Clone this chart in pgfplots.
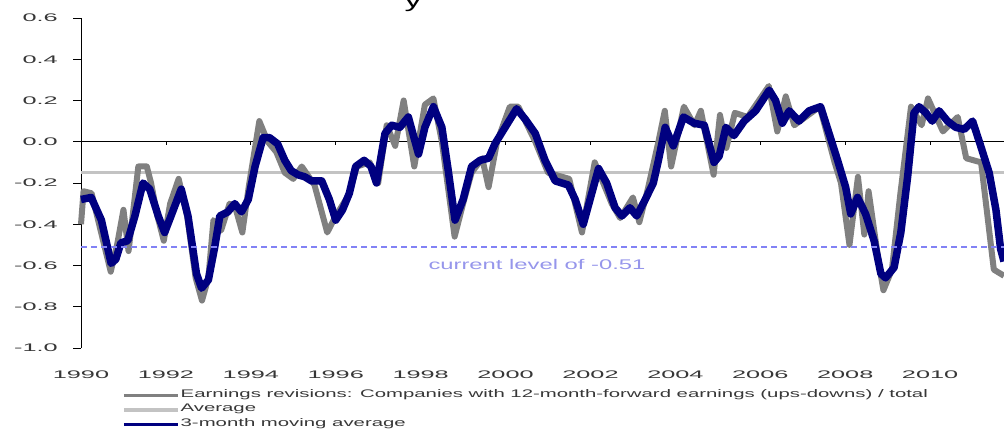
\documentclass[border=0pt]{standalone}
\usepackage{fontspec}
\setmainfont{Liberation Sans}
\usepackage{graphicx}
\usepackage{pgfplots}
\pgfplotsset{compat=1.18}

\definecolor{navy}{RGB}{0,0,128}
\definecolor{revgray}{RGB}{128,128,128}
\definecolor{avggray}{RGB}{195,195,195}
\definecolor{curblue}{RGB}{130,130,245}
\definecolor{curtext}{RGB}{150,150,235}
\definecolor{ticktext}{RGB}{55,55,55}

% the source picture is stretched sideways, so the text is too
\newcommand\wide[1]{\scalebox{2.3}[1]{#1}}
\newcommand\legwide[1]{\scalebox{1.85}[1]{#1}}

\pgfplotstableread{
year value
1990.00 -0.40
1990.06 -0.24
1990.25 -0.25
1990.45 -0.42
1990.70 -0.63
1990.85 -0.50
1991.00 -0.33
1991.12 -0.53
1991.25 -0.30
1991.35 -0.12
1991.55 -0.12
1991.65 -0.20
1991.80 -0.36
1991.95 -0.48
1992.10 -0.30
1992.30 -0.18
1992.50 -0.36
1992.70 -0.66
1992.85 -0.77
1993.00 -0.66
1993.12 -0.38
1993.30 -0.43
1993.50 -0.30
1993.65 -0.33
1993.80 -0.44
1993.95 -0.22
1994.20 0.10
1994.40 0.00
1994.60 -0.05
1994.80 -0.15
1995.00 -0.18
1995.20 -0.12
1995.50 -0.21
1995.80 -0.44
1996.00 -0.36
1996.30 -0.26
1996.50 -0.12
1996.80 -0.10
1997.00 -0.20
1997.20 0.08
1997.40 -0.02
1997.60 0.20
1997.85 -0.12
1998.10 0.18
1998.30 0.21
1998.50 0.00
1998.80 -0.46
1999.00 -0.30
1999.20 -0.15
1999.45 -0.08
1999.60 -0.22
1999.80 0.00
2000.10 0.17
2000.30 0.17
2000.70 0.00
2001.00 -0.15
2001.50 -0.18
2001.80 -0.44
2002.10 -0.10
2002.50 -0.30
2002.70 -0.37
2003.00 -0.27
2003.15 -0.39
2003.35 -0.23
2003.60 0.00
2003.75 0.15
2003.90 -0.12
2004.20 0.17
2004.45 0.08
2004.60 0.15
2004.90 -0.16
2005.05 0.13
2005.20 -0.03
2005.40 0.14
2005.70 0.12
2006.20 0.27
2006.40 0.05
2006.60 0.22
2006.80 0.08
2007.40 0.17
2007.75 -0.10
2007.90 -0.20
2008.10 -0.50
2008.30 -0.17
2008.45 -0.45
2008.55 -0.24
2008.80 -0.60
2008.90 -0.72
2009.10 -0.62
2009.30 -0.25
2009.55 0.17
2009.80 0.08
2009.95 0.21
2010.30 0.05
2010.65 0.12
2010.85 -0.08
2011.20 -0.10
2011.50 -0.62
2011.74 -0.65
}\revisions

\pgfplotstableread{
year value
1990.00 -0.28
1990.24 -0.27
1990.48 -0.38
1990.71 -0.59
1990.82 -0.57
1990.94 -0.49
1991.10 -0.48
1991.27 -0.36
1991.46 -0.20
1991.62 -0.23
1991.82 -0.36
1991.97 -0.44
1992.12 -0.36
1992.36 -0.23
1992.52 -0.36
1992.72 -0.64
1992.84 -0.71
1993.00 -0.67
1993.15 -0.51
1993.27 -0.36
1993.46 -0.34
1993.62 -0.30
1993.78 -0.34
1993.94 -0.28
1994.10 -0.12
1994.29 0.02
1994.44 0.02
1994.63 -0.01
1994.80 -0.09
1994.95 -0.14
1995.11 -0.16
1995.27 -0.17
1995.43 -0.19
1995.67 -0.19
1995.85 -0.28
1996.00 -0.38
1996.16 -0.33
1996.32 -0.25
1996.47 -0.12
1996.67 -0.09
1996.83 -0.12
1996.96 -0.20
1997.16 0.04
1997.32 0.08
1997.51 0.07
1997.71 0.12
1997.95 -0.06
1998.10 0.07
1998.30 0.17
1998.50 0.07
1998.65 -0.14
1998.81 -0.38
1999.00 -0.28
1999.20 -0.12
1999.40 -0.09
1999.60 -0.08
1999.75 -0.01
1999.99 0.07
2000.26 0.16
2000.46 0.11
2000.70 0.04
2000.93 -0.09
2001.17 -0.19
2001.48 -0.21
2001.64 -0.28
2001.83 -0.40
2001.99 -0.28
2002.19 -0.13
2002.38 -0.20
2002.58 -0.32
2002.74 -0.36
2002.93 -0.32
2003.09 -0.36
2003.29 -0.28
2003.48 -0.20
2003.60 -0.09
2003.76 0.07
2003.95 -0.02
2004.19 0.12
2004.44 0.09
2004.68 0.08
2004.91 -0.10
2005.03 -0.07
2005.19 0.07
2005.38 0.03
2005.62 0.10
2005.89 0.15
2006.21 0.25
2006.36 0.20
2006.52 0.09
2006.68 0.15
2006.91 0.10
2007.15 0.15
2007.42 0.17
2007.62 0.04
2007.82 -0.09
2008.01 -0.22
2008.13 -0.35
2008.29 -0.27
2008.48 -0.35
2008.68 -0.48
2008.84 -0.64
2008.95 -0.66
2009.15 -0.61
2009.31 -0.44
2009.47 -0.17
2009.62 0.14
2009.74 0.17
2009.90 0.14
2010.05 0.10
2010.21 0.15
2010.41 0.10
2010.60 0.07
2010.80 0.06
2011.00 0.10
2011.19 -0.02
2011.39 -0.15
2011.55 -0.33
2011.66 -0.52
2011.74 -0.58
}\movavg

\begin{document}
\begin{tikzpicture}[x=1pt,y=1pt]
\path[use as bounding box] (0,0) rectangle (1004,430);
% only the foot of the title shows at the top edge
\node[overlay, anchor=base, font=\fontsize{20}{24}\selectfont] at (413,422) {\scalebox{1.7}[1]{y}};
\begin{axis}[
    at={(81pt,82pt)}, anchor=south west,
    scale only axis, width=923pt, height=330pt,
    xmin=1990, xmax=2011.74, ymin=-1, ymax=0.6,
    clip=false,
    axis y line=left, axis x line=bottom,
    x axis line style={draw=none},
    y axis line style={-, black, line width=0.9pt},
    tick align=outside,
    major tick length=8pt,
    xtick={1990,1992,1994,1996,1998,2000,2002,2004,2006,2008,2010},
    xticklabels={\wide{1990},\wide{1992},\wide{1994},\wide{1996},\wide{1998},\wide{2000},\wide{2002},\wide{2004},\wide{2006},\wide{2008},\wide{2010}},
    xtick style={draw=none},
    ytick={-1,-0.8,-0.6,-0.4,-0.2,0,0.2,0.4,0.6},
    yticklabels={\wide{-1.0},\wide{-0.8},\wide{-0.6},\wide{-0.4},\wide{-0.2},\wide{0.0},\wide{0.2},\wide{0.4},\wide{0.6}},
    ytick style={draw=black, line width=0.8pt},
    xticklabel style={font=\fontsize{11}{13}\selectfont, text=ticktext, anchor=north, inner sep=0pt, yshift=-15pt},
    yticklabel style={font=\fontsize{11}{13}\selectfont, text=ticktext, anchor=east, inner sep=0pt, xshift=-15pt},
    legend style={at={(0.0444,-0.121)}, anchor=north west, draw=none, fill=none,
        inner sep=0pt, font=\fontsize{11}{13}\selectfont, text=ticktext,
        row sep=0pt, column sep=0pt,
        nodes={inner sep=1pt, text height=8pt, text depth=4.5pt}},
    legend cell align=left,
    legend image code/.code={\draw[#1, line width=3.5pt] (0pt,0pt) -- (54pt,0pt);},
]
% zero line with its small ticks, and the ticks of the value axis
\draw[black, line width=0.8pt] (axis cs:1990,0) -- (axis cs:2011.74,0);
\pgfplotsinvokeforeach{1992,1994,1996,1998,2000,2002,2004,2006,2008,2010}{
  \draw[black, line width=0.8pt] (axis cs:#1,0) -- ++(0pt,-3pt);
}
\pgfplotsinvokeforeach{-1,-0.8,-0.6,-0.4,-0.2,0,0.2,0.4,0.6}{
  \draw[black, line width=0.8pt] (axis cs:1990,#1) -- ++(-8pt,0pt);
}
\addplot[avggray, line width=3.5pt, forget plot] coordinates {(1990,-0.15) (2011.74,-0.15)};
\addplot[revgray, line width=6pt, line join=round] table[x=year, y=value] {\revisions};
\addlegendentry{\legwide{Earnings revisions:  Companies  with 12-month-forward earnings (ups-downs) / total}}
\addlegendimage{avggray}
\addlegendentry{\legwide{Average}}
\addplot[navy, line width=7.5pt, line join=round] table[x=year, y=value] {\movavg};
\addlegendentry{\legwide{3-month moving average}}
\addplot[curblue, line width=1.2pt, dash pattern=on 6pt off 4pt, forget plot] coordinates {(1990,-0.51) (2011.74,-0.51)};
\node[anchor=base, text=curtext, font=\fontsize{14}{16}\selectfont] at (axis cs:2000.74,-0.619) {\scalebox{1.7}[1]{current level of -0.51}};
\end{axis}
\end{tikzpicture}
\end{document}
